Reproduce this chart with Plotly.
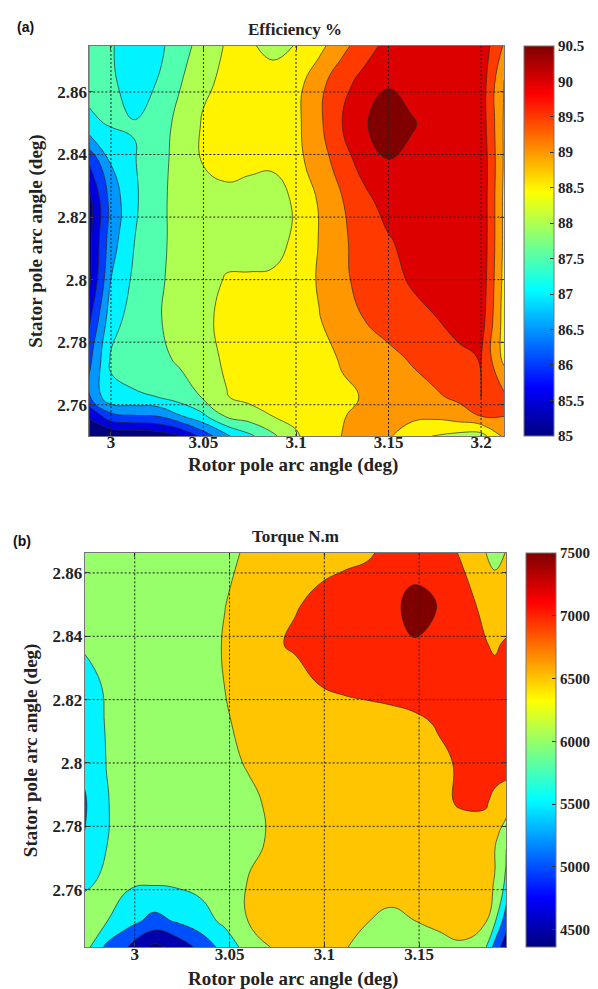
import plotly.graph_objects as go

# ---------------- (a) Efficiency % ----------------
eff_x = [2.9883, 3.0, 3.0125, 3.025, 3.0375, 3.05, 3.0625, 3.075, 3.0875, 3.1,
         3.1125, 3.125, 3.1375, 3.15, 3.1625, 3.175, 3.1875, 3.2, 3.2124]
eff_y = [2.75, 2.7563, 2.7625, 2.775, 2.7875, 2.8, 2.8125, 2.825, 2.8375, 2.85, 2.8625, 2.8748]
eff_z = [
    [85.1, 85.05, 85.1, 85.2, 85.45, 86.2, 86.93, 87.4, 87.9, 88.45, 88.75, 89.01, 89.15, 89.05, 88.75, 88.47, 88.35, 88.3, 89.1],
    [85.55, 86.3, 86.45, 86.5, 86.95, 87.4, 88.05, 88.25, 88.5, 88.6, 88.9, 88.97, 89.15, 89.2, 89.1, 89.1, 89.25, 89.5, 89.5],
    [86.45, 87.42, 87.45, 87.5, 87.75, 88.05, 88.48, 88.65, 88.8, 88.85, 88.9, 88.95, 89.02, 89.15, 89.3, 89.42, 89.6, 90.02, 89.6],
    [86.35, 87.55, 87.7, 87.85, 88.1, 88.35, 88.57, 88.7, 88.75, 88.8, 88.9, 89.03, 89.2, 89.38, 89.55, 89.75, 89.9, 90.02, 88.85],
    [85.9, 87.3, 87.7, 87.95, 88.2, 88.42, 88.6, 88.65, 88.7, 88.8, 88.98, 89.25, 89.52, 89.7, 89.85, 89.98, 90.15, 90.25, 88.8],
    [85.4, 87.0, 87.6, 87.9, 88.2, 88.4, 88.52, 88.52, 88.55, 88.7, 89.05, 89.42, 89.65, 89.85, 90.05, 90.2, 90.25, 90.35, 88.85],
    [85.35, 86.78, 87.49, 87.85, 88.2, 88.35, 88.4, 88.42, 88.38, 88.56, 89.02, 89.43, 89.7, 89.95, 90.2, 90.3, 90.3, 90.4, 88.9],
    [85.33, 86.68, 87.42, 87.85, 88.2, 88.35, 88.4, 88.4, 88.35, 88.55, 89.05, 89.48, 89.85, 90.25, 90.35, 90.3, 90.25, 90.4, 88.9],
    [86.05, 87.03, 87.47, 87.8, 88.2, 88.52, 88.6, 88.55, 88.55, 88.85, 89.25, 89.75, 90.25, 90.48, 90.4, 90.3, 90.25, 90.4, 88.95],
    [87.4, 87.55, 87.52, 87.75, 88.15, 88.55, 88.7, 88.75, 88.8, 88.88, 89.4, 90.0, 90.47, 90.72, 90.54, 90.35, 90.25, 90.3, 88.95],
    [87.65, 87.58, 87.3, 87.52, 87.98, 88.42, 88.6, 88.7, 88.75, 88.82, 89.35, 89.85, 90.2, 90.47, 90.35, 90.2, 90.15, 90.3, 88.95],
    [87.6, 87.55, 87.2, 87.35, 87.8, 88.2, 88.55, 88.56, 88.35, 88.52, 88.85, 89.35, 89.8, 90.15, 90.2, 90.2, 90.15, 90.35, 89.45],
]
eff_levels = [85.5, 86, 86.5, 87, 87.5, 88, 88.5, 89, 89.5, 90, 90.5]
eff_cmin, eff_cmax = 85, 90.5
eff_xticks = [3, 3.05, 3.1, 3.15, 3.2]
eff_yticks = [2.76, 2.78, 2.8, 2.82, 2.84, 2.86]
eff_cticks = [85, 85.5, 86, 86.5, 87, 87.5, 88, 88.5, 89, 89.5, 90, 90.5]

# ---------------- (b) Torque N.m ----------------
tq_x = [2.9736, 2.985, 2.9975, 3.01, 3.0225, 3.035, 3.0475, 3.06, 3.0725, 3.085,
        3.0975, 3.11, 3.1225, 3.135, 3.1475, 3.16, 3.1725, 3.185, 3.19, 3.196]
tq_y = [2.7418, 2.75, 2.7625, 2.775, 2.7875, 2.8, 2.8125, 2.825, 2.8375, 2.85, 2.8663]
tq_z = [
    [6200, 5400, 4950, 4360, 4650, 5150, 5700, 6200, 6520, 6600, 6580, 6520, 6420, 6320, 6320, 6400, 6470, 6050, 5300, 4700],
    [6150, 6020, 5650, 5330, 5550, 5800, 6100, 6510, 6600, 6600, 6580, 6550, 6510, 6380, 6495, 6560, 6580, 6540, 6050, 5200],
    [5950, 6050, 6080, 6070, 6090, 6150, 6250, 6520, 6620, 6650, 6680, 6700, 6720, 6720, 6720, 6700, 6680, 6620, 6480, 5900],
    [5520, 5990, 6150, 6200, 6220, 6260, 6300, 6380, 6560, 6650, 6700, 6720, 6740, 6760, 6780, 6800, 6800, 6750, 6550, 6020],
    [5450, 5980, 6150, 6200, 6230, 6280, 6330, 6400, 6580, 6650, 6700, 6720, 6750, 6780, 6820, 6920, 7040, 7050, 6880, 6800],
    [5600, 6005, 6150, 6200, 6250, 6300, 6380, 6540, 6650, 6700, 6720, 6740, 6760, 6800, 6850, 6920, 7050, 7200, 7200, 7150],
    [5800, 6020, 6150, 6200, 6250, 6330, 6460, 6600, 6700, 6750, 6780, 6800, 6830, 6870, 6920, 7030, 7150, 7200, 7200, 7150],
    [5850, 6050, 6150, 6220, 6280, 6350, 6505, 6600, 6700, 6800, 7010, 7080, 7120, 7150, 7200, 7200, 7200, 7150, 7130, 7100],
    [6050, 6150, 6220, 6250, 6300, 6380, 6520, 6650, 6920, 7080, 7150, 7200, 7250, 7350, 7470, 7380, 7200, 7020, 6950, 7050],
    [6150, 6200, 6220, 6250, 6280, 6350, 6495, 6600, 6750, 6970, 7100, 7150, 7200, 7380, 7650, 7490, 7150, 6900, 6800, 6750],
    [6200, 6200, 6250, 6250, 6280, 6320, 6430, 6540, 6650, 6750, 6850, 6920, 6960, 7080, 7260, 7180, 6960, 6510, 6350, 6520],
]
tq_levels = [4500, 5000, 5500, 6000, 6500, 7000, 7500]
tq_cmin, tq_cmax = 4360, 7500
tq_xticks = [3, 3.05, 3.1, 3.15]
tq_yticks = [2.76, 2.78, 2.8, 2.82, 2.84, 2.86]
tq_cticks = [4500, 5000, 5500, 6000, 6500, 7000, 7500]

TITLE_X = "Rotor pole arc angle (deg)"
TITLE_Y = "Stator pole arc angle (deg)"

# ---------------- styling helpers ----------------
W, H = 598, 989
SERIF = "Liberation Serif"


def jet(t):
    t = min(max(t, 0.0), 1.0)
    r = min(max(min(4 * t - 1.5, -4 * t + 4.5), 0), 1)
    g = min(max(min(4 * t - 0.5, -4 * t + 3.5), 0), 1)
    b = min(max(min(4 * t + 0.5, -4 * t + 2.5), 0), 1)
    return "rgb(%d,%d,%d)" % (round(r * 255), round(g * 255), round(b * 255))


JET = [[p, jet(p)] for p in (0, 0.125, 0.375, 0.625, 0.875, 1)]


def band_scale(levels, cmin, cmax):
    cols = [jet(0)] + [jet((lv - cmin) / (cmax - cmin)) for lv in levels]
    n = len(cols)
    cs = []
    for k, c in enumerate(cols):
        cs.append([k / n, c])
        cs.append([(k + 1) / n, c])
    return cs


def fmt(v):
    return "%g" % v


fig = go.Figure()

panels = [
    dict(x=eff_x, y=eff_y, z=eff_z, levels=eff_levels, cmin=eff_cmin, cmax=eff_cmax,
         xticks=eff_xticks, yticks=eff_yticks, cticks=eff_cticks, xa="x", ya="y",
         xdom=[81.3 / W, 496 / W], ydom=[1 - 428 / H, 1 - 37.7 / H],
         cb_left=516, cb_th=30, title="Efficiency %", title_y=21, tag="(a)", tag_x=7, tag_y=19,
         xt_y=457, yt_x=28),
    dict(x=tq_x, y=tq_y, z=tq_z, levels=tq_levels, cmin=tq_cmin, cmax=tq_cmax,
         xticks=tq_xticks, yticks=tq_yticks, cticks=tq_cticks, xa="x2", ya="y2",
         xdom=[76.7 / W, 498.3 / W], ydom=[1 - 939.3 / H, 1 - 545 / H],
         cb_left=518, cb_th=30, title="Torque N.m", title_y=528, tag="(b)", tag_x=3, tag_y=533,
         xt_y=971, yt_x=23),
]

shapes = []
annotations = []
for p in panels:
    y0, y1 = p["ydom"]
    # continuous colourbar (heatmap hidden beneath the filled contours)
    fig.add_trace(go.Heatmap(
        x=p["x"], y=p["y"], z=p["z"], xaxis=p["xa"], yaxis=p["ya"],
        colorscale=JET, zmin=p["cmin"], zmax=p["cmax"], hoverinfo="skip",
        colorbar=dict(x=p["cb_left"] / W, xanchor="left", xpad=0,
                      y=(y0 + y1) / 2, yanchor="middle", len=y1 - y0, ypad=0,
                      thickness=p["cb_th"], tickvals=p["cticks"],
                      ticktext=[fmt(v) for v in p["cticks"]],
                      ticks="inside", ticklen=4, tickcolor="#333",
                      outlinewidth=1, outlinecolor="#777",
                      tickfont=dict(family=SERIF, size=15, color="#222", weight="bold"))))
    lv = p["levels"]
    fig.add_trace(go.Contour(
        x=p["x"], y=p["y"], z=p["z"], xaxis=p["xa"], yaxis=p["ya"],
        autocontour=False,
        contours=dict(start=lv[0], end=lv[-1], size=lv[1] - lv[0], coloring="fill"),
        colorscale=band_scale(lv, p["cmin"], p["cmax"]), showscale=False,
        line=dict(color="rgba(40,40,40,0.85)", width=0.8, smoothing=1.3),
        hoverinfo="skip"))
    for xt in p["xticks"]:
        shapes.append(dict(type="line", xref=p["xa"], yref=p["ya"] + " domain",
                           x0=xt, x1=xt, y0=0, y1=1, layer="above",
                           line=dict(color="#222", width=1, dash="2px,2px")))
    for yt in p["yticks"]:
        shapes.append(dict(type="line", xref=p["xa"] + " domain", yref=p["ya"],
                           x0=0, x1=1, y0=yt, y1=yt, layer="above",
                           line=dict(color="#222", width=1, dash="2px,2px")))
    annotations += [
        dict(text=p["title"], x=287 / W, y=1 - p["title_y"] / H, xref="paper", yref="paper",
             showarrow=False, xanchor="center", yanchor="middle",
             font=dict(family=SERIF, size=17, color="#222", weight="bold")),
        dict(text=p["tag"], x=p["tag_x"] / W, y=1 - p["tag_y"] / H, xref="paper", yref="paper",
             showarrow=False, xanchor="left", yanchor="middle",
             font=dict(family="Liberation Sans", size=14, color="#111", weight="bold")),
        dict(text=TITLE_X, x=285 / W, y=1 - p["xt_y"] / H, xref="paper", yref="paper",
             showarrow=False, xanchor="center", yanchor="middle",
             font=dict(family=SERIF, size=19, color="#222", weight="bold")),
        dict(text=TITLE_Y, x=p["yt_x"] / W, y=(y0 + y1) / 2, xref="paper", yref="paper",
             showarrow=False, xanchor="center", yanchor="middle", textangle=-90,
             font=dict(family=SERIF, size=19, color="#222", weight="bold")),
    ]


def axis(dom, rng, ticks, anchor, standoff):
    return dict(domain=dom, range=rng, anchor=anchor, tickvals=ticks,
                ticktext=[fmt(v) for v in ticks], ticks="inside", ticklen=4,
                tickcolor="#444", showgrid=False, zeroline=False, showline=True,
                linecolor="#777", linewidth=1, mirror="ticks",
                ticklabelstandoff=standoff,
                tickfont=dict(family=SERIF, size=17, color="#222", weight="bold"))


p0, p1 = panels
fig.update_layout(
    width=W, height=H, margin=dict(l=0, r=0, t=0, b=0),
    paper_bgcolor="white", plot_bgcolor="white", showlegend=False,
    xaxis=axis(p0["xdom"], [eff_x[0], eff_x[-1]], eff_xticks, "y", -9),
    yaxis=axis(p0["ydom"], [eff_y[0], eff_y[-1]], eff_yticks, "x", -2),
    xaxis2=axis(p1["xdom"], [tq_x[0], tq_x[-1]], tq_xticks, "y2", -9),
    yaxis2=axis(p1["ydom"], [tq_y[0], tq_y[-1]], tq_yticks, "x2", -2),
    shapes=shapes,
    annotations=annotations,
)

fig.write_html("out.html")
